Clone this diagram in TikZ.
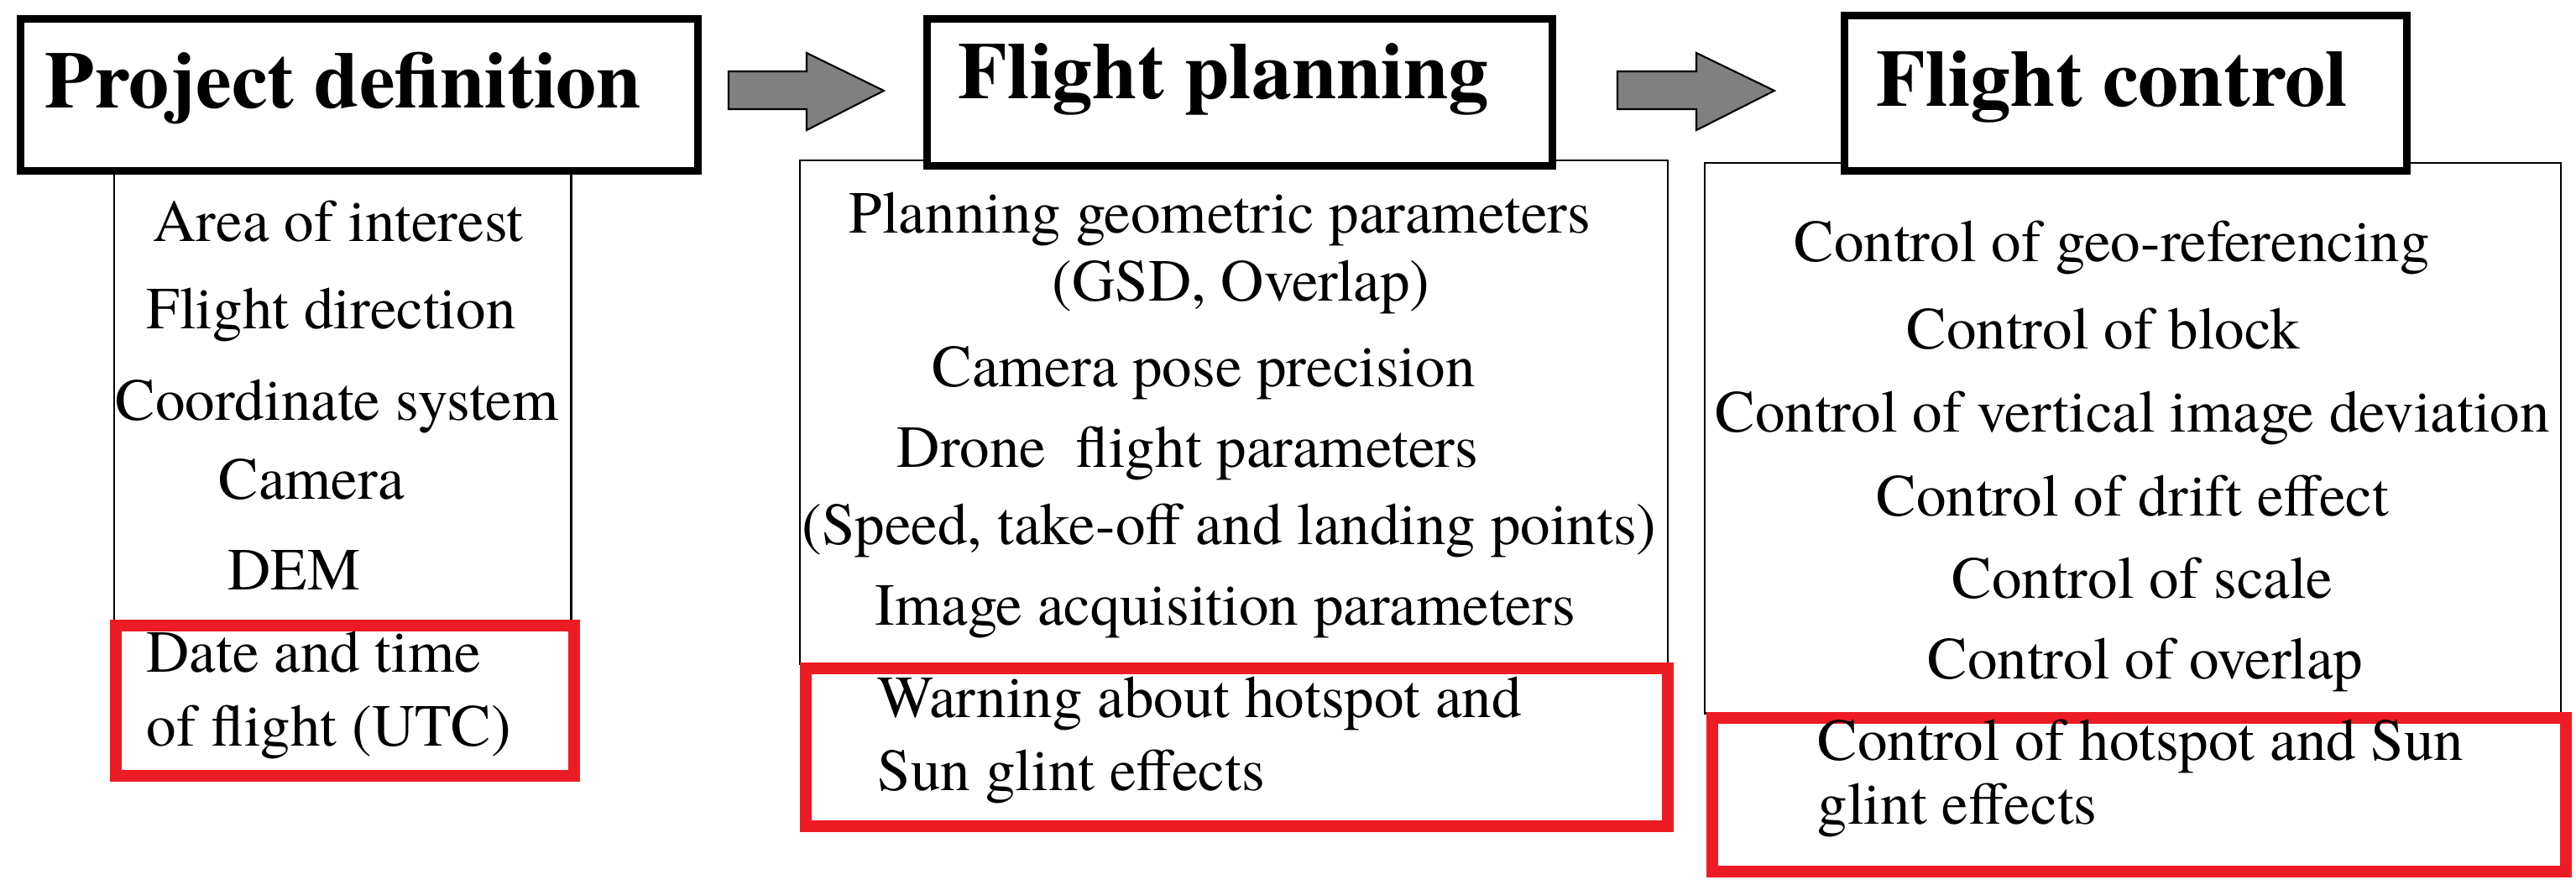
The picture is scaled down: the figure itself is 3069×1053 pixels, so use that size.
\documentclass[tikz,border=0pt]{standalone}
\usepackage{fontspec}
\setmainfont{texgyretermes}[Extension=.otf, UprightFont=*-regular, BoldFont=*-bold, ItalicFont=*-italic, BoldItalicFont=*-bolditalic]
\definecolor{boxred}{HTML}{ED1C24}
\definecolor{arrowgray}{HTML}{808080}
\begin{document}
\begin{tikzpicture}[x=0.01cm,y=-0.01cm,
  titlebox/.style={draw=black, line width=2.56pt, fill=white, inner sep=0, anchor=north west},
  listbox/.style={draw=black, line width=0.7pt, inner sep=0, anchor=north west},
  redbox/.style={draw=boxred, line width=3.98pt, inner sep=0, anchor=north west},
  blockarrow/.style={draw=black, line width=0.6pt, fill=arrowgray},
  txt/.style={anchor=base west, inner sep=0, font=\fontsize{20.2}{24}\selectfont},
  ttl/.style={anchor=base west, inner sep=0, font=\fontsize{27.3}{32}\selectfont\bfseries}]
\useasboundingbox (0,0) rectangle (3069,1053);
% list boxes
\node[listbox, minimum width=5.44cm, minimum height=5.38cm] (L) at (135,200) {};
\node[listbox, minimum width=10.33cm, minimum height=5.99cm] (M) at (952,190) {};
\node[listbox, minimum width=10.19cm, minimum height=6.55cm] (R) at (2030,193) {};
% title boxes
\node[titlebox, minimum width=8.07cm, minimum height=1.81cm] (PD) at (19.5,17.5) {};
\node[titlebox, minimum width=7.45cm, minimum height=1.75cm] (FP) at (1099.5,17.5) {};
\node[titlebox, minimum width=6.70cm, minimum height=1.85cm] (FC) at (2192.5,13.5) {};
% red boxes
\node[redbox, minimum width=5.46cm, minimum height=1.79cm] (LR) at (131,738) {};
\node[redbox, minimum width=10.26cm, minimum height=1.88cm] (MR) at (953,789) {};
\node[redbox, minimum width=10.16cm, minimum height=1.83cm] (RR) at (2033,848) {};
% titles
\node[ttl] (tPD) at (53,128) {Project definition};
\node[ttl] (tFP) at (1141,117) {Flight planning};
\node[ttl] (tFC) at (2235,126) {Flight control};
% left list
\node[txt] (l1) at (182,287) {Area of interest};
\node[txt] (l2) at (174,391) {Flight direction};
\node[txt] (l3) at (137,500) {Coordinate system};
\node[txt] (l4) at (260,594) {Camera};
\node[txt] (l5) at (271,702) {DEM};
\node[txt] (l6) at (174,800) {Date and time};
\node[txt] (l7) at (174,888) {of flight (UTC)};
% middle list
\node[txt] (m1) at (1011,277) {Planning geometric parameters};
\node[txt] (m2) at (1253,358) {(GSD, Overlap)};
\node[txt] (m3) at (1110,460) {Camera pose precision};
\node[txt] (m4) at (1068,556) {Drone\ \ flight parameters};
\node[txt] (m5) at (955,648) {(Speed, take-off and landing points)};
\node[txt] (m6) at (1042,744) {Image acquisition parameters};
\node[txt] (m7) at (1045,854) {Warning about hotspot and};
\node[txt] (m8) at (1045,941) {Sun glint effects};
% right list
\node[txt] (r1) at (2137,311) {Control of geo-referencing};
\node[txt] (r2) at (2271,415) {Control of block};
\node[txt] (r3) at (2043,514) {Control of vertical image deviation};
\node[txt] (r4) at (2235,614) {Control of drift effect};
\node[txt] (r5) at (2325,712) {Control of scale};
\node[txt] (r6) at (2296,808) {Control of overlap};
\node[txt] (r7) at (2165,905) {Control of hotspot and Sun};
\node[txt] (r8) at (2165,981) {glint effects};
% block arrows
\draw[blockarrow] (868,85) -- (961,85) -- (961,63) -- (1053,108) -- (961,155) -- (961,130) -- (868,130) -- cycle;
\draw[blockarrow] (1927,85) -- (2021,85) -- (2021,63) -- (2114,108) -- (2021,155) -- (2021,130) -- (1927,130) -- cycle;
\end{tikzpicture}
\end{document}
